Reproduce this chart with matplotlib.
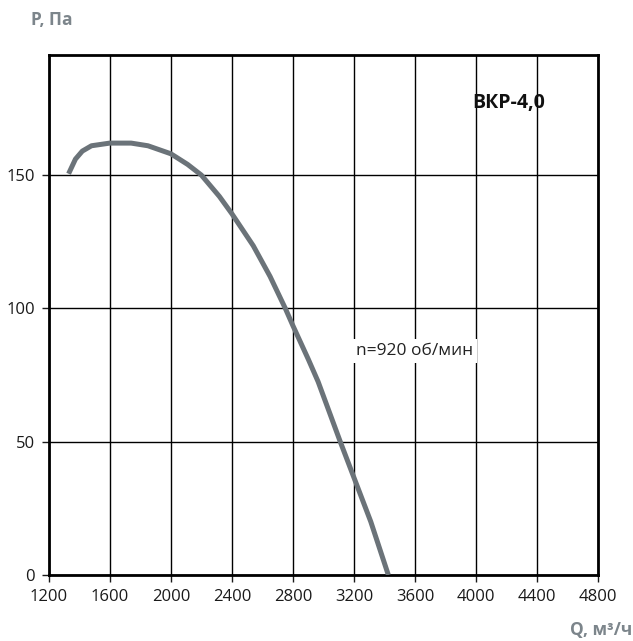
import matplotlib
matplotlib.use("Agg")
import matplotlib.pyplot as plt

q_vals = [1330, 1375, 1420, 1480, 1600, 1740, 1850, 2000, 2110, 2200,
          2318, 2400, 2540, 2650, 2750, 2800, 2900, 2965, 3110, 3200,
          3310, 3425]
p_vals = [150.5, 156, 159, 161, 162, 162, 161, 158, 154, 150,
          142, 135.5, 123.5, 112, 100, 93.5, 81, 72.5, 50, 36.5,
          20, 0]

x_ticks = [1200, 1600, 2000, 2400, 2800, 3200, 3600, 4000, 4400, 4800]
y_ticks = [0, 50, 100, 150]

plt.rcParams['font.family'] = ['Open Sans', 'DejaVu Sans']

fig = plt.figure(figsize=(6.33, 6.41), dpi=100)
ax = fig.add_axes([0.077, 0.103, 0.868, 0.811])

ax.plot(q_vals, p_vals, color='#6b7379', lw=3.6, solid_capstyle='butt',
        solid_joinstyle='round', zorder=3)

ax.set_xlim(1200, 4800)
ax.set_ylim(0, 195)
ax.set_xticks(x_ticks)
ax.set_yticks(y_ticks)
ax.grid(True, color='black', lw=1.0)
ax.set_axisbelow(True)
for s in ax.spines.values():
    s.set_linewidth(2.0)
    s.set_color('black')
ax.tick_params(direction='out', length=5, width=1, labelsize=12,
               colors='#1a1a1a', pad=5)

ax.text(4212, 177, 'ВКР-4,0', ha='center', va='center', fontsize=14,
        fontweight='bold', color='#111111')
ax.text(3595, 84, 'n=920 об/мин', ha='center', va='center', fontsize=12.5,
        color='#222222', bbox=dict(facecolor='white', edgecolor='none', pad=3), zorder=4)

fig.text(52 / 633, 1 - 20 / 641, 'P, Па', ha='center', va='center',
         fontsize=12.5, fontweight='bold', color='#7c858b')
fig.text(632 / 633, 1 - 630 / 641, 'Q, м³/ч', ha='right', va='center',
         fontsize=12.5, fontweight='bold', color='#7c858b')

fig.savefig('out.png', dpi=100)
